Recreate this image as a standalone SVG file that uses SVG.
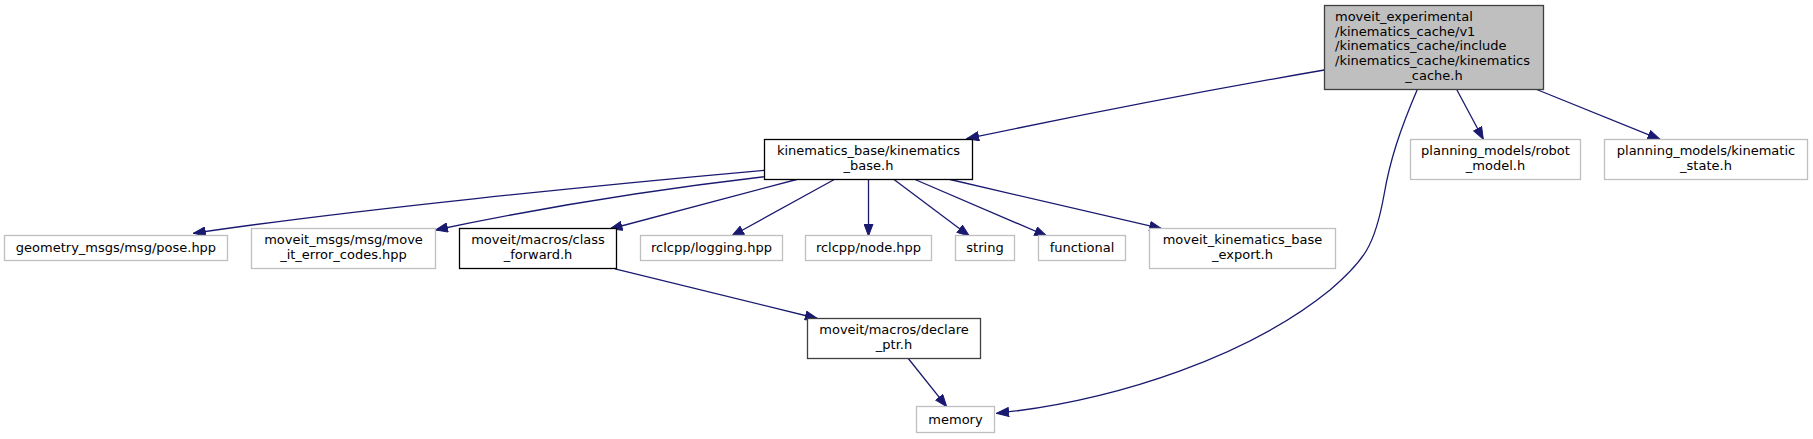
<svg xmlns="http://www.w3.org/2000/svg" width="1813" height="439" viewBox="0 0 1813 439">
<style>
text{font-family:"DejaVu Sans","Liberation Sans",sans-serif;font-size:13px;fill:#000}
.c{text-anchor:middle}
.ext{fill:#fff;stroke:#bfbfbf;stroke-width:1.3}
.doc{fill:#fff;stroke:#000;stroke-width:1.3}
.doc2{fill:#fff;stroke:#404040;stroke-width:1.3}
.main{fill:#bfbfbf;stroke:#404040;stroke-width:1.3}
.e{fill:none;stroke:#191970;stroke-width:1.3;marker-end:url(#ah)}
</style>
<defs>
<marker id="ah" markerUnits="userSpaceOnUse" viewBox="0 0 13 10" refX="12.5" refY="5" markerWidth="13" markerHeight="10" orient="auto">
<path d="M0.5,0.5 L12.5,5 L0.5,9.5 z" fill="#191970" stroke="#191970" stroke-width="1"/>
</marker>
</defs>
<rect width="1813" height="439" fill="#fff"/>
<g id="edges">
<path class="e" d="M1324.3,70 C1220,88 1080,115 966.7,138.7"/>
<path class="e" d="M1456.7,89.5 L1483.3,139.3"/>
<path class="e" d="M1536.7,89.5 L1660,139.3"/>
<path class="e" d="M1417.3,89.5 C1400,130 1390,160 1384,195 C1375,245 1365,260 1330,290 C1250,355 1120,400 996.7,413.3"/>
<path class="e" d="M764.3,170.3 C600,185 350,210 193.3,233.3"/>
<path class="e" d="M764.3,176.7 C650,190 530,210 435.5,230"/>
<path class="e" d="M796.7,179.5 L610,229"/>
<path class="e" d="M834.3,179.5 L731.7,236"/>
<path class="e" d="M868.5,179.5 L868.5,236"/>
<path class="e" d="M894,179.5 L969.3,236"/>
<path class="e" d="M915,179.5 L1046.7,236"/>
<path class="e" d="M950,179.5 L1161.7,228.7"/>
<path class="e" d="M615,268.8 L817.3,318.5"/>
<path class="e" d="M908.3,358.5 L946.7,406.7"/>
</g>
<g id="node_main">
<rect class="main" x="1324.5" y="5.5" width="219" height="84"/>
<text x="1335" y="21">moveit_experimental</text>
<text x="1335" y="35.7">/kinematics_cache/v1</text>
<text x="1335" y="50.4">/kinematics_cache/include</text>
<text x="1335" y="65.1">/kinematics_cache/kinematics</text>
<text class="c" x="1434" y="79.8">_cache.h</text>
</g>
<g id="node_kinematics_base">
<rect class="doc" x="764.5" y="139.5" width="208" height="40"/>
<text class="c" x="868.5" y="155">kinematics_base/kinematics</text>
<text class="c" x="868.5" y="169.7">_base.h</text>
</g>
<g id="node_robot_model">
<rect class="ext" x="1410.5" y="139.5" width="170" height="40"/>
<text class="c" x="1495.5" y="155">planning_models/robot</text>
<text class="c" x="1495.5" y="169.7">_model.h</text>
</g>
<g id="node_kinematic_state">
<rect class="ext" x="1604.5" y="139.5" width="203" height="40"/>
<text class="c" x="1706" y="155">planning_models/kinematic</text>
<text class="c" x="1706" y="169.7">_state.h</text>
</g>
<g id="node_pose">
<rect class="ext" x="4.5" y="235.5" width="223" height="25"/>
<text class="c" x="116" y="252.3">geometry_msgs/msg/pose.hpp</text>
</g>
<g id="node_error_codes">
<rect class="ext" x="251.5" y="228.5" width="184" height="40"/>
<text class="c" x="343.5" y="244.3">moveit_msgs/msg/move</text>
<text class="c" x="343.5" y="259">_it_error_codes.hpp</text>
</g>
<g id="node_class_forward">
<rect class="doc" x="459.5" y="228.5" width="157" height="40"/>
<text class="c" x="538" y="244.3">moveit/macros/class</text>
<text class="c" x="538" y="259">_forward.h</text>
</g>
<g id="node_logging">
<rect class="ext" x="640.5" y="235.5" width="142" height="25"/>
<text class="c" x="711.5" y="252.3">rclcpp/logging.hpp</text>
</g>
<g id="node_node">
<rect class="ext" x="805.5" y="235.5" width="126" height="25"/>
<text class="c" x="868.5" y="252.3">rclcpp/node.hpp</text>
</g>
<g id="node_string">
<rect class="ext" x="955.5" y="235.5" width="59" height="25"/>
<text class="c" x="985" y="252.3">string</text>
</g>
<g id="node_functional">
<rect class="ext" x="1038.5" y="235.5" width="87" height="25"/>
<text class="c" x="1082" y="252.3">functional</text>
</g>
<g id="node_export">
<rect class="ext" x="1149.5" y="228.5" width="186" height="40"/>
<text class="c" x="1242.5" y="244.3">moveit_kinematics_base</text>
<text class="c" x="1242.5" y="259">_export.h</text>
</g>
<g id="node_declare_ptr">
<rect class="doc2" x="807.5" y="318.5" width="173" height="40"/>
<text class="c" x="894" y="334.3">moveit/macros/declare</text>
<text class="c" x="894" y="349">_ptr.h</text>
</g>
<g id="node_memory">
<rect class="ext" x="916.5" y="406.5" width="78" height="26"/>
<text class="c" x="955.5" y="423.5">memory</text>
</g>
</svg>
